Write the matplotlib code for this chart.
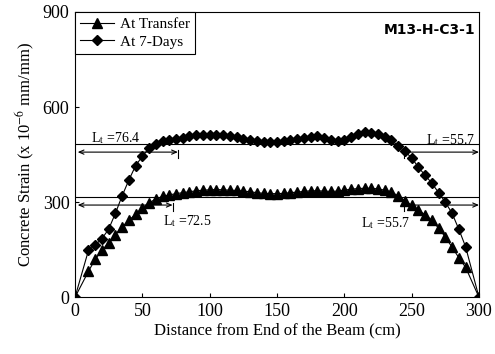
import numpy as np
import matplotlib
matplotlib.use("Agg")
import matplotlib.pyplot as plt

plt.rcParams['font.family'] = ['Liberation Serif', 'DejaVu Serif']
plt.rcParams['mathtext.fontset'] = 'stix'

# distance from end of beam (cm)
distance = [0, 10, 15, 20, 25, 30, 35, 40, 45, 50, 55, 60, 65, 70, 75, 80, 85, 90, 95, 100,
            105, 110, 115, 120, 125, 130, 135, 140, 145, 150, 155, 160, 165, 170, 175, 180,
            185, 190, 195, 200, 205, 210, 215, 220, 225, 230, 235, 240, 245, 250, 255, 260,
            265, 270, 275, 280, 285, 290, 300]

strain_transfer = [0, 82, 120, 148, 172, 198, 222, 243, 262, 282, 298, 310, 318, 323, 327, 330,
                   333, 336, 338, 339, 340, 339, 338, 337, 335, 333, 330, 328, 327, 327, 328,
                   330, 332, 334, 336, 336, 335, 334, 335, 338, 341, 343, 344, 344, 342, 338,
                   332, 320, 305, 290, 275, 260, 243, 218, 190, 158, 125, 95, 0]

strain_7days = [0, 148, 165, 185, 215, 265, 320, 370, 415, 445, 470, 484, 493, 497, 499, 503,
                510, 512, 513, 512, 513, 511, 509, 505, 500, 497, 492, 490, 489, 490, 493, 497,
                500, 503, 505, 508, 503, 496, 494, 497, 505, 515, 520, 518, 514, 507, 495, 478,
                460, 440, 410, 385, 360, 330, 300, 265, 215, 160, 0]

# plateau (95% AMS) lines and transfer length arrows
ams_levels = [316, 484]
arrow_levels = [291, 458]
lt_left = [72.5, 76.4]
lt_right = [55.7, 55.7]

fig = plt.figure(figsize=(4.95, 3.54), dpi=100)
ax = fig.add_axes([75 / 495, 1 - 297.3 / 354, 404 / 495, 285.3 / 354])

ax.plot(distance, strain_transfer, color='k', lw=0.8, marker='^', ms=6.8,
        label='At Transfer')
ax.plot(distance, strain_7days, color='k', lw=0.8, marker='D', ms=5.0,
        label='At 7-Days')

for lev in ams_levels:
    ax.plot([0, 300], [lev, lev], color='k', lw=0.8)

for lev, ll, lr in zip(arrow_levels, lt_left, lt_right):
    ax.annotate('', xy=(2, lev), xytext=(ll, lev),
                arrowprops=dict(arrowstyle='<->,head_length=0.35,head_width=0.15',
                                color='k', lw=0.8, shrinkA=0, shrinkB=0))
    ax.plot([ll, ll], [lev - 20, lev + 8], color='k', lw=0.8)
    ax.annotate('', xy=(300, lev), xytext=(300 - lr, lev),
                arrowprops=dict(arrowstyle='->,head_length=0.35,head_width=0.15',
                                color='k', lw=0.8, shrinkA=0, shrinkB=0))
    ax.plot([300 - lr, 300 - lr], [lev - 20, lev + 8], color='k', lw=0.8)

ax.text(12, 503, r'L$_{\rm t}$ =76.4', fontsize=10, va='center', ha='left')
ax.text(297, 497, r'L$_{\rm t}$ =55.7', fontsize=10, va='center', ha='right')
ax.text(65, 240, r'L$_{\rm t}$ =72.5', fontsize=10, va='center', ha='left')
ax.text(249, 235, r'L$_{\rm t}$ =55.7', fontsize=10, va='center', ha='right')

ax.text(297, 844, 'M13-H-C3-1', fontsize=10, fontweight='bold', family='DejaVu Sans',
        ha='right', va='center')

ax.set_xlim(0, 300)
ax.set_ylim(0, 900)
ax.set_xticks([0, 50, 100, 150, 200, 250, 300])
ax.set_yticks([0, 300, 600, 900])
ax.tick_params(direction='in', labelsize=13, length=3, pad=4)
ax.set_xlabel('Distance from End of the Beam (cm)', fontsize=12, labelpad=2)
ax.set_ylabel(r'Concrete Strain (x 10$^{-6}$ mm/mm)', fontsize=12, labelpad=4)

for sp in ax.spines.values():
    sp.set_linewidth(0.8)

leg = ax.legend(loc='upper left', borderaxespad=0, fontsize=11, fancybox=False,
                edgecolor='k', framealpha=1, handlelength=2.2, borderpad=0.35,
                labelspacing=0.25, handletextpad=0.4)
leg.get_frame().set_linewidth(0.8)

fig.savefig('out.png', dpi=100)
